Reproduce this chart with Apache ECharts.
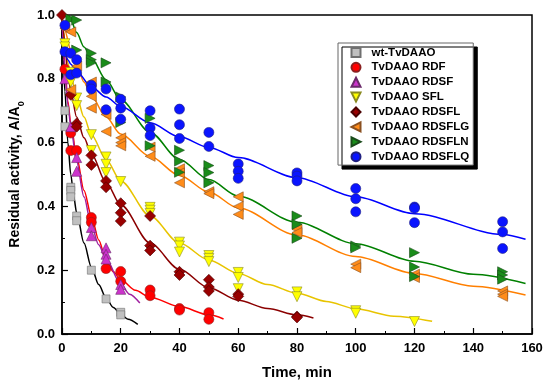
<!DOCTYPE html>
<html><head><meta charset="utf-8">
<script src="https://cdn.jsdelivr.net/npm/echarts/dist/echarts.min.js"></script>
<style>html,body{margin:0;padding:0;background:#fff}#c{width:550px;height:385px}</style>
</head><body><div id="c"></div>
<script>
// Series names
const names = ['wt-TvDAAO','TvDAAO RDF','TvDAAO RDSF','TvDAAO SFL','TvDAAO RDSFL','TvDAAO RDSFLG','TvDAAO RDSFLN','TvDAAO RDSFLQ'];
// Axis ticks
const xTicks = [0,20,40,60,80,100,120,140,160];
const yTicks = [0.0,0.2,0.4,0.6,0.8,1.0];

// Measured points [time min, A/A0]
const wtPts = [[1,0.70],[1,0.65],[3,0.46],[3,0.45],[3,0.43],[5,0.37],[5,0.355],[10,0.20],[15,0.11],[20,0.068],[20,0.06]];
const rdfPts = [[1,0.83],[3,0.63],[3,0.575],[5,0.575],[10,0.365],[10,0.35],[15,0.205],[20,0.196],[20,0.165],[30,0.138],[30,0.12],[40,0.08],[40,0.075],[50,0.067],[50,0.046]];
const rdsfPts = [[1,0.80],[3,0.65],[5,0.553],[5,0.51],[10,0.334],[10,0.308],[15,0.27],[15,0.25],[15,0.235],[20,0.155],[20,0.14]];
const sflPts = [[1,0.91],[1,0.90],[3,0.82],[3,0.79],[5,0.74],[5,0.716],[10,0.625],[10,0.575],[15,0.555],[15,0.532],[15,0.506],[20,0.478],[30,0.397],[30,0.388],[30,0.378],[40,0.288],[40,0.276],[40,0.257],[50,0.246],[50,0.237],[50,0.227],[60,0.193],[60,0.177],[60,0.142],[80,0.132],[80,0.117],[100,0.073],[100,0.065],[120,0.039]];
const rdsflPts = [[0,1.0],[3,0.75],[5,0.66],[5,0.65],[10,0.56],[10,0.53],[15,0.48],[15,0.46],[20,0.41],[20,0.38],[20,0.354],[30,0.37],[30,0.277],[30,0.262],[40,0.195],[40,0.185],[50,0.17],[50,0.147],[50,0.135],[60,0.125],[60,0.118],[80,0.055],[80,0.052]];
const rdsflgPts = [[1,0.958],[3,0.947],[3,0.766],[5,0.84],[10,0.79],[10,0.745],[10,0.708],[15,0.688],[15,0.635],[20,0.615],[20,0.60],[20,0.59],[30,0.586],[30,0.557],[40,0.518],[40,0.505],[40,0.474],[50,0.446],[50,0.44],[60,0.43],[60,0.40],[60,0.375],[80,0.328],[80,0.318],[100,0.219],[100,0.208],[120,0.1875],[120,0.177],[150,0.135],[150,0.125],[150,0.118]];
const rdsflnPts = [[3,0.987],[5,0.984],[5,0.89],[10,0.88],[10,0.86],[10,0.85],[15,0.85],[15,0.79],[20,0.743],[20,0.663],[30,0.676],[30,0.59],[40,0.576],[40,0.542],[40,0.507],[50,0.528],[50,0.506],[50,0.474],[80,0.37],[80,0.344],[80,0.30],[100,0.276],[100,0.27],[120,0.255],[120,0.21],[120,0.18],[150,0.195],[150,0.185],[150,0.172]];
const rdsflqPts = [[1,0.968],[1,0.885],[3,0.88],[3,0.8125],[5,0.86],[5,0.818],[10,0.78],[10,0.768],[15,0.768],[15,0.703],[20,0.736],[20,0.708],[20,0.673],[30,0.70],[30,0.646],[30,0.622],[40,0.705],[40,0.656],[40,0.613],[50,0.632],[50,0.588],[60,0.533],[60,0.51],[60,0.488],[80,0.505],[80,0.495],[80,0.48],[100,0.456],[100,0.424],[100,0.383],[120,0.398],[120,0.394],[120,0.349],[150,0.352],[150,0.32],[150,0.268]];

// Fitted curves
const wtFit = [[0,1.0],[0.5,0.86],[1,0.76],[2,0.6],[3,0.5],[4,0.43],[5,0.38],[7.5,0.285],[10,0.21],[12.5,0.155],[15,0.113],[17.5,0.083],[20,0.062],[22.5,0.046],[25.8,0.03]];
const rdfFit = [[0,1.0],[0.5,0.91],[1,0.84],[2,0.73],[3,0.66],[5,0.555],[7.5,0.45],[10,0.37],[12.5,0.295],[15,0.232],[17.5,0.195],[20,0.17],[25,0.137],[30,0.115],[40,0.086],[50,0.06],[55,0.047]];
const rdsfFit = [[0,1.0],[0.5,0.9],[1,0.82],[2,0.72],[3,0.65],[5,0.54],[7.5,0.43],[10,0.34],[12.5,0.28],[15,0.235],[20,0.157],[23,0.125],[26.5,0.097]];
const sflFit = [[0,1.0],[0.5,0.95],[1,0.91],[2,0.85],[3,0.81],[5,0.745],[7.5,0.68],[10,0.625],[15,0.547],[20,0.48],[30,0.37],[40,0.285],[50,0.232],[60,0.19],[70,0.155],[80,0.128],[90,0.102],[100,0.079],[113,0.056],[126,0.04]];
const rdsflFit = [[0,1.0],[0.5,0.95],[1,0.9],[2,0.82],[3,0.76],[5,0.68],[7.5,0.615],[10,0.565],[15,0.475],[20,0.405],[30,0.285],[40,0.203],[50,0.145],[60,0.106],[70,0.08],[80,0.06],[85.6,0.05]];
const rdsflgFit = [[0,1.0],[1,0.95],[3,0.89],[5,0.845],[7.5,0.79],[10,0.745],[15,0.68],[20,0.627],[30,0.557],[40,0.497],[50,0.445],[60,0.395],[80,0.31],[100,0.243],[120,0.19],[140,0.15],[157.8,0.122]];
const rdsflnFit = [[2.3,1.0],[3,0.985],[5,0.945],[7.5,0.9],[10,0.865],[15,0.797],[20,0.734],[30,0.632],[40,0.547],[50,0.484],[60,0.432],[80,0.35],[100,0.283],[120,0.228],[140,0.187],[157.8,0.158]];
const rdsflqFit = [[0,0.93],[0.5,0.895],[1,0.878],[2,0.86],[3,0.846],[5,0.823],[10,0.775],[15,0.743],[20,0.713],[30,0.662],[40,0.618],[50,0.585],[60,0.553],[80,0.49],[100,0.43],[120,0.377],[150,0.312],[157.8,0.297]];

const pts = [wtPts,rdfPts,rdsfPts,sflPts,rdsflPts,rdsflgPts,rdsflnPts,rdsflqPts];
const fits = [wtFit,rdfFit,rdsfFit,sflFit,rdsflFit,rdsflgFit,rdsflnFit,rdsflqFit];
const fill = ['#c0c0c0','#ff0000','#cc33cc','#ffff00','#990000','#ff8c1a','#1a8c1a','#0a14ff'];
const lineCol = ['#000000','#ff0000','#a020a0','#e8c400','#8b0000','#ff7f00','#008000','#0000ff'];
const border = ['#707070','#8a2020','#6a2a6a','#8a8a20','#4a0000','#8a5020','#1a4a1a','#202080'];
const symbols = ['rect','circle','path://M5,0L10,10L0,10Z','path://M0,0L10,0L5,10Z','diamond',
  'path://M10,0L10,10L0,5Z','path://M0,0L0,10L10,5Z','circle'];
const sizes = [8,10,10,10,11,10,10,10];

const series = [];
fits.forEach((f,i)=>{
  series.push({type:'line', name:'fit'+i, data:f, showSymbol:false, smooth:0.3, smoothMonotone:'x',
    lineStyle:{color:lineCol[i], width:1.5}, itemStyle:{color:lineCol[i]}, z:2, silent:true, animation:false});
});
pts.forEach((p,i)=>{
  series.push({type:'scatter', name:names[i], data:p, symbol:symbols[i], symbolSize:sizes[i],
    itemStyle:{color:fill[i], borderColor:border[i], borderWidth:0.6, opacity:1}, z:3, animation:false});
});

const chart = echarts.init(document.getElementById('c'), null, {renderer:'canvas'});
chart.setOption({
  animation:false,
  backgroundColor:'#fff',
  grid:{left:56, right:18, top:15, bottom:50, show:true, borderColor:'#000', borderWidth:1.5},
  xAxis:{type:'value', min:0, max:160, interval:20,
    name:'Time, min', nameLocation:'middle', nameGap:31,
    nameTextStyle:{fontFamily:'Liberation Sans', fontWeight:'bold', fontSize:15, color:'#000'},
    axisLine:{lineStyle:{color:'#000', width:1.5}},
    axisTick:{inside:true, length:6, lineStyle:{color:'#000', width:1.2}},
    minorTick:{show:true, splitNumber:2, length:3, lineStyle:{color:'#000', width:1}},
    splitLine:{show:false},
    axisLabel:{fontFamily:'Liberation Sans', fontWeight:'bold', fontSize:13, color:'#000', margin:8,
      formatter:v=>xTicks.includes(v)?String(v):''}
  },
  yAxis:{type:'value', min:0, max:1.0, interval:0.2,
    name:'Residual activity, A/A{s|0}', nameLocation:'middle', nameGap:28,
    nameTextStyle:{fontFamily:'Liberation Sans', fontWeight:'bold', fontSize:14, color:'#000',
      rich:{s:{fontFamily:'Liberation Sans', fontWeight:'bold', fontSize:9, verticalAlign:'bottom', padding:[0,0,-4,0]}}},
    axisLine:{lineStyle:{color:'#000', width:1.5}},
    axisTick:{inside:true, length:6, lineStyle:{color:'#000', width:1.2}},
    minorTick:{show:true, splitNumber:2, length:3, lineStyle:{color:'#000', width:1}},
    splitLine:{show:false},
    axisLabel:{fontFamily:'Liberation Sans', fontWeight:'bold', fontSize:13, color:'#000', margin:7,
      formatter:v=>{const t=yTicks.find(y=>Math.abs(y-v)<1e-6);return t===undefined?'':t.toFixed(1);}}
  },
  legend:{orient:'vertical', left:338, top:43, data:names,
    itemWidth:9, itemHeight:9, itemGap:2.9, padding:[3.4,4,2.4,12.5],
    backgroundColor:'#fff', borderColor:'#666', borderWidth:1,
    shadowColor:'#000', shadowBlur:0, shadowOffsetX:4, shadowOffsetY:4,
    textStyle:{fontFamily:'Liberation Sans', fontWeight:'bold', fontSize:11.5, color:'#000', lineHeight:12, padding:[0,0,0,6]}
  },
  series:series
});
</script></body></html>
